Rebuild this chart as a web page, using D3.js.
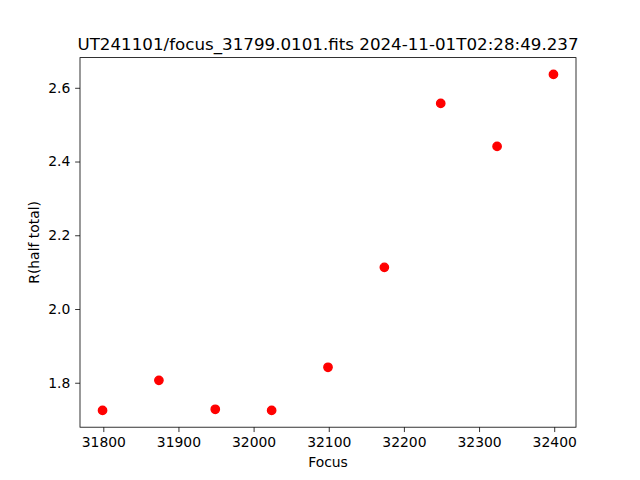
<!DOCTYPE html>
<html><head><meta charset="utf-8">
<script src="https://cdn.jsdelivr.net/npm/d3@7"></script>
<style>body{margin:0;background:#fff}svg{display:block}text{font-family:"DejaVu Sans";fill:#000}</style>
</head><body><svg id="c" width="640" height="480"></svg>
<script>
const focus = [31799, 31874, 31949, 32024, 32099, 32174, 32249, 32324, 32399];
const rHalf = [1.725, 1.8065, 1.728, 1.725, 1.842, 2.113, 2.5577, 2.441, 2.6363];
const xTicks = [31800, 31900, 32000, 32100, 32200, 32300, 32400];
const yTicks = [1.8, 2.0, 2.2, 2.4, 2.6];
const title = "UT241101/focus_31799.0101.fits 2024-11-01T02:28:49.237";

const svg = d3.select("#c");
const L = 80, R = 576, T = 57.6, B = 427.2;
const pad = (e) => { const d = e[1]-e[0]; return [e[0]-0.05*d, e[1]+0.05*d]; };
const x = d3.scaleLinear().domain(pad(d3.extent(focus))).range([L, R]);
const y = d3.scaleLinear().domain(pad(d3.extent(rHalf))).range([B, T]);

const xa = svg.append("g").attr("transform", `translate(0,${B})`)
  .call(d3.axisBottom(x).tickValues(xTicks).tickFormat(d3.format("d")).tickSize(4.86).tickPadding(4.86));
const ya = svg.append("g").attr("transform", `translate(${L},0)`)
  .call(d3.axisLeft(y).tickValues(yTicks).tickFormat(d3.format(".1f")).tickSize(4.86).tickPadding(4.86));
[xa, ya].forEach(a => {
  a.select(".domain").remove();
  a.selectAll(".tick line").attr("stroke", "#000").attr("stroke-width", 0.8);
  a.selectAll(".tick text").style("font-family", "DejaVu Sans").style("font-size", "13.9px").attr("fill", "#000");
});

svg.append("g").selectAll("circle").data(focus).join("circle")
  .attr("cx", d => x(d)).attr("cy", (d, i) => y(rHalf[i])).attr("r", 4.17)
  .attr("fill", "#ff0000").attr("stroke", "#ff0000").attr("stroke-width", 1.39);

svg.append("rect").attr("x", L).attr("y", T).attr("width", R-L).attr("height", B-T)
  .attr("fill", "none").attr("stroke", "#000").attr("stroke-width", 0.8);

svg.append("text").attr("x", (L+R)/2).attr("y", 49.5).attr("text-anchor", "middle")
  .style("font-size", "16.7px").text(title);
svg.append("text").attr("x", (L+R)/2).attr("y", 467).attr("text-anchor", "middle")
  .style("font-size", "13.9px").text("Focus");
svg.append("text").attr("transform", `translate(39,${(T+B)/2}) rotate(-90)`).attr("text-anchor", "middle")
  .style("font-size", "13.9px").text("R(half total)");
</script></body></html>
